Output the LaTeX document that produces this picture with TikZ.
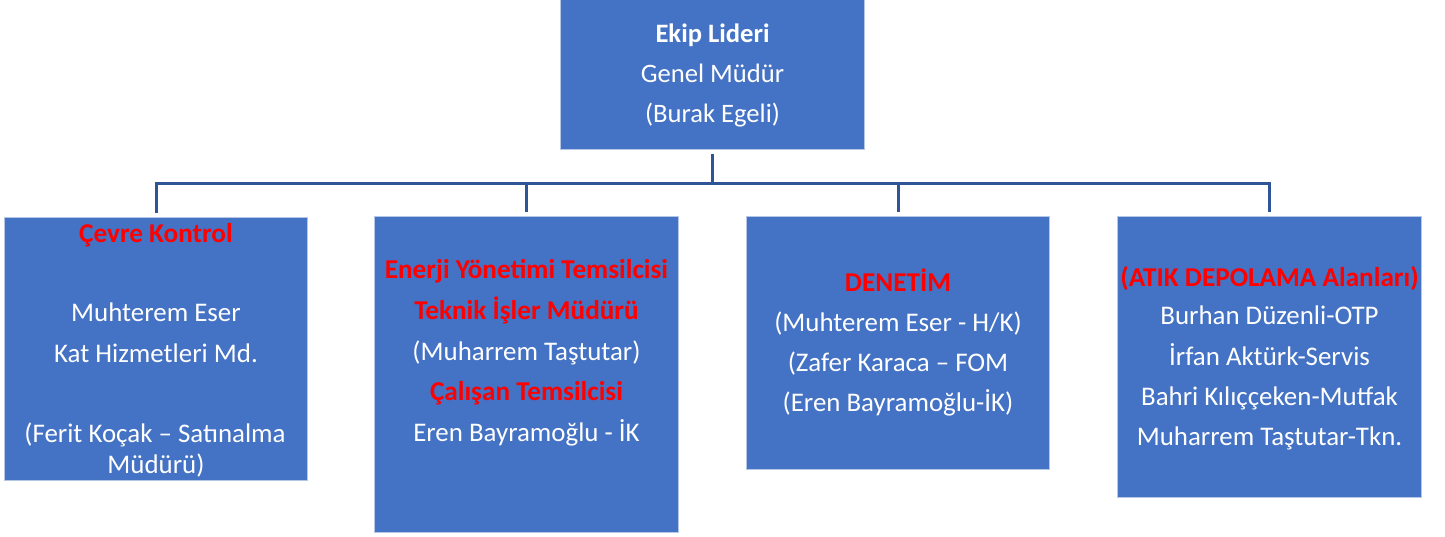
\documentclass[tikz,border=0pt]{standalone}
\usepackage{fontspec}
\setmainfont{Carlito}
\definecolor{boxblue}{HTML}{4472C4}
\definecolor{linkblue}{HTML}{2F5597}
\definecolor{boxedge}{HTML}{B4C7E7}
\begin{document}
\begin{tikzpicture}[x=1pt,y=-1pt,
  box/.style={draw=boxedge, line width=1pt, fill=boxblue, inner sep=0pt, anchor=north west},
  wt/.style={text=white, font=\fontsize{26.9}{30}\selectfont, anchor=base, inner sep=0pt},
  tt/.style={text=white, font=\fontsize{26.6}{30}\selectfont, anchor=base, inner sep=0pt},
  wb/.style={text=white, font=\fontsize{26.6}{30}\selectfont\bfseries, anchor=base, inner sep=0pt},
  rt/.style={text=red, font=\fontsize{27.2}{30}\selectfont\bfseries, anchor=base, inner sep=0pt},
  link/.style={draw=linkblue, line width=3pt}]
\useasboundingbox (0,0) rectangle (1445,536);
% boxes
\node[box, minimum width=304pt, minimum height=152pt] (top) at (560,-3) {};
\node[box, minimum width=303pt, minimum height=263pt] (b1) at (4,217) {};
\node[box, minimum width=304pt, minimum height=316pt] (b2) at (374,216) {};
\node[box, minimum width=303pt, minimum height=253pt] (b3) at (746,216) {};
\node[box, minimum width=304pt, minimum height=281pt] (b4) at (1117,216) {};
% connectors
\coordinate (hub) at (712,183);
\draw[link] ([yshift=-4pt]top.south) -- (top.south |- hub);
\draw[link] ([yshift=4pt]b1.north) |- (hub) -| ([yshift=4pt]b4.north);
\draw[link] ([yshift=4pt]b2.north) -- (b2.north |- hub);
\draw[link] ([yshift=4pt]b3.north) -- (b3.north |- hub);
% top texts
\node[wb] (t0a) at (top.center |- 0,42) {Ekip Lideri};
\node[tt] (t0b) at (top.center |- 0,82) {Genel Müdür};
\node[tt] (t0c) at (top.center |- 0,122) {(Burak Egeli)};
% box 1
\node[rt] (t1a) at (b1.center |- 0,242) {Çevre Kontrol};
\node[wt] (t1b) at (b1.center |- 0,321) {Muhterem Eser};
\node[wt] (t1c) at (b1.center |- 0,362) {Kat Hizmetleri Md.};
\node[wt] (t1d) at ([xshift=-1pt]b1.center |- 0,442) {(Ferit Koçak – Satınalma};
\node[wt] (t1e) at (b1.center |- 0,473) {Müdürü)};
% box 2
\node[rt] (t2a) at (b2.center |- 0,278) {Enerji Yönetimi Temsilcisi};
\node[rt] (t2b) at (b2.center |- 0,319) {Teknik İşler Müdürü};
\node[wt] (t2c) at (b2.center |- 0,360) {(Muharrem Taştutar)};
\node[rt] (t2d) at (b2.center |- 0,400) {Çalışan Temsilcisi};
\node[wt] (t2e) at (b2.center |- 0,441) {Eren Bayramoğlu - İK};
% box 3
\node[rt] (t3a) at (b3.center |- 0,291) {DENETİM};
\node[wt] (t3b) at (b3.center |- 0,331) {(Muhterem Eser - H/K)};
\node[wt] (t3c) at (b3.center |- 0,371) {(Zafer Karaca – FOM};
\node[wt] (t3d) at (b3.center |- 0,411) {(Eren Bayramoğlu-İK)};
% box 4
\node[rt] (t4a) at (b4.center |- 0,286) {(ATIK DEPOLAMA Alanları)};
\node[wt] (t4b) at (b4.center |- 0,324) {Burhan Düzenli-OTP};
\node[wt] (t4c) at (b4.center |- 0,365) {İrfan Aktürk-Servis};
\node[wt] (t4d) at (b4.center |- 0,405) {Bahri Kılıççeken-Mutfak};
\node[wt] (t4e) at (b4.center |- 0,445) {Muharrem Taştutar-Tkn.};
\end{tikzpicture}
\end{document}
